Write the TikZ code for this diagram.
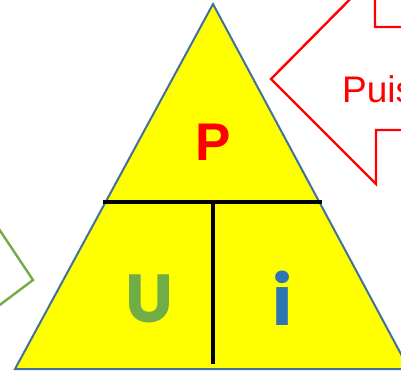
\documentclass[tikz,border=0pt]{standalone}
\usepackage{fontspec}
\setmainfont{Liberation Sans}
\newfontfamily\rndfont{Poppins}
\definecolor{triyel}{HTML}{FFFF00}
\definecolor{triedge}{HTML}{41719C}
\definecolor{ugreen}{HTML}{70AD47}
\definecolor{iblue}{HTML}{2E75B6}
\tikzset{
  arrowline/.style={line width=2.4pt, line join=miter},
  divline/.style={line width=3.6pt, black},
  bigletter/.style={inner sep=0pt, anchor=base}
}
\begin{document}
\begin{tikzpicture}[x=1pt,y=-1pt]
\useasboundingbox (0,0) rectangle (401,373);
\clip (0,0) rectangle (401,373);
% triangle
\coordinate (apex) at (213,4);
\coordinate (bl) at (15,369);
\coordinate (br) at (409,369);
\draw[fill=triyel, draw=triedge, line width=2pt, line join=miter] (apex) -- (bl) -- (br) -- cycle;
% dividers
\coordinate (hl) at (103,202);
\coordinate (hr) at (322,202);
\coordinate (vt) at (213,202);
\coordinate (vb) at (213,364);
\draw[divline] (hl) -- (hr);
\draw[divline] (vt) -- (vb);
% red arrow (left-pointing)
\draw[arrowline, red] (420,27) -- (375,27) -- (375,-26) -- (271,79) -- (376,184) -- (376,130) -- (420,130);
% green arrow (right-pointing)
\draw[arrowline, ugreen] (-3,226) -- (33,280) -- (-3,307);
% texts
\node[bigletter, text=red, font=\fontsize{53}{60}\selectfont\bfseries] (P) at (213,160) {P};
\node[bigletter, text=ugreen, font=\fontsize{68}{80}\selectfont\rndfont\bfseries] (U) at (149,322) {U};
\node[bigletter, text=iblue, font=\fontsize{68}{80}\selectfont\rndfont\bfseries] (I) at (283,325) {i};
\node[inner sep=0pt, anchor=base west, text=red, font=\fontsize{37}{44}\selectfont] (puis) at (342,102) {Puissance};
\end{tikzpicture}
\end{document}
